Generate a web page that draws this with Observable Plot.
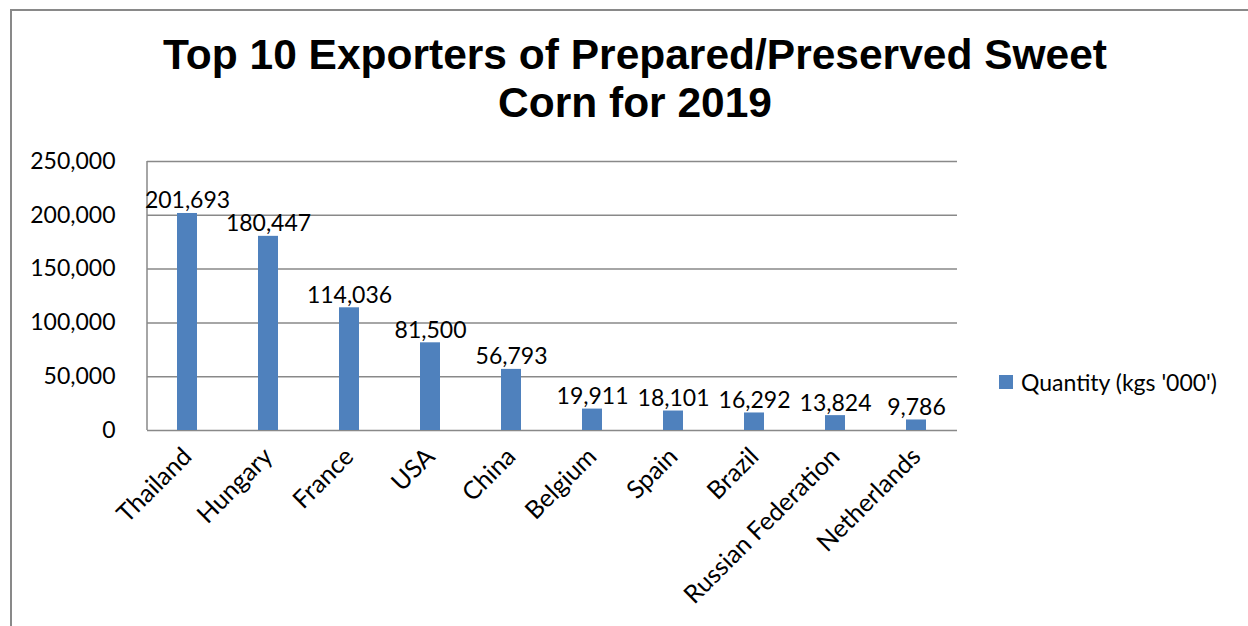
<!DOCTYPE html>
<html>
<head>
<meta charset="utf-8">
<script src="https://cdn.jsdelivr.net/npm/d3@7"></script>
<script src="https://cdn.jsdelivr.net/npm/@observablehq/plot@0.6"></script>
<style>
  body { margin: 0; background: #fff; }
  #wrap { position: relative; width: 1248px; height: 626px; overflow: hidden; background: #fff; font-family: Lato, "Open Sans", sans-serif; color: #000; }
  #frame { position: absolute; left: 10px; top: 9px; width: 1400px; height: 800px; border-left: 2px solid #898989; border-top: 2px solid #898989; }
  #title { position: absolute; left: 0; top: 31px; width: 1270px; text-align: center; font: bold 42.5px "Liberation Sans", Arial, sans-serif; line-height: 48px; margin: 0; }
  #chart { position: absolute; left: 0; top: 140px; }
  #chart g[aria-label^="x-axis"] text { font-size: 25px; }
  #legend { position: absolute; left: 999px; top: 367px; display: flex; align-items: center; font-size: 23px; line-height: 30px; }
  #legend .sw { width: 14px; height: 14px; background: #4F81BD; margin-right: 8px; }
</style>
</head>
<body>
<div id="wrap">
  <div id="frame"></div>
  <h1 id="title">Top 10 Exporters of Prepared/Preserved Sweet<br>Corn for 2019</h1>
  <div id="chart"></div>
  <div id="legend"><span class="sw"></span><span id="legendLabel"></span></div>
</div>
<script>
const countries = ["Thailand", "Hungary", "France", "USA", "China", "Belgium", "Spain", "Brazil", "Russian Federation", "Netherlands"];
const quantities = [201693, 180447, 114036, 81500, 56793, 19911, 18101, 16292, 13824, 9786];
const yTicks = [0, 50000, 100000, 150000, 200000, 250000];
const seriesName = "Quantity (kgs '000')";

document.getElementById("legendLabel").textContent = seriesName;

const data = countries.map((c, i) => ({country: c, value: quantities[i]}));
const fmt = d3.format(",");
const lineColor = "#898989";

const leftAxisLine = (index, scales, values, dimensions) => {
  const {marginLeft, marginTop, height, marginBottom} = dimensions;
  const g = d3.create("svg:line")
    .attr("x1", marginLeft).attr("x2", marginLeft)
    .attr("y1", marginTop).attr("y2", height - marginBottom)
    .attr("stroke", lineColor).attr("stroke-width", 1.5);
  return g.node();
};

const chart = Plot.plot({
  width: 1248,
  height: 486,
  marginTop: 21,
  marginBottom: 196,
  marginLeft: 147,
  marginRight: 291,
  style: { fontFamily: "Lato, 'Open Sans', sans-serif", fontSize: "23px", color: "#000", background: "transparent", overflow: "visible" },
  x: { domain: countries, paddingInner: 0.753, paddingOuter: 0.3765, label: null, tickRotate: -45, tickSize: 0, tickPadding: 22 },
  y: { domain: [0, 250000], ticks: yTicks, tickFormat: fmt, label: null, tickSize: 0, tickPadding: 32 },
  marks: [
    Plot.gridY(yTicks, { stroke: lineColor, strokeOpacity: 1, strokeWidth: 1.5 }),
    leftAxisLine,
    Plot.barY(data, { x: "country", y: "value", fill: "#4F81BD" }),
    Plot.text(data, { x: "country", y: "value", text: d => fmt(d.value), lineAnchor: "bottom", dy: -5, fontSize: 23, fill: "#000" })
  ]
});
document.getElementById("chart").appendChild(chart);
</script>
</body>
</html>
